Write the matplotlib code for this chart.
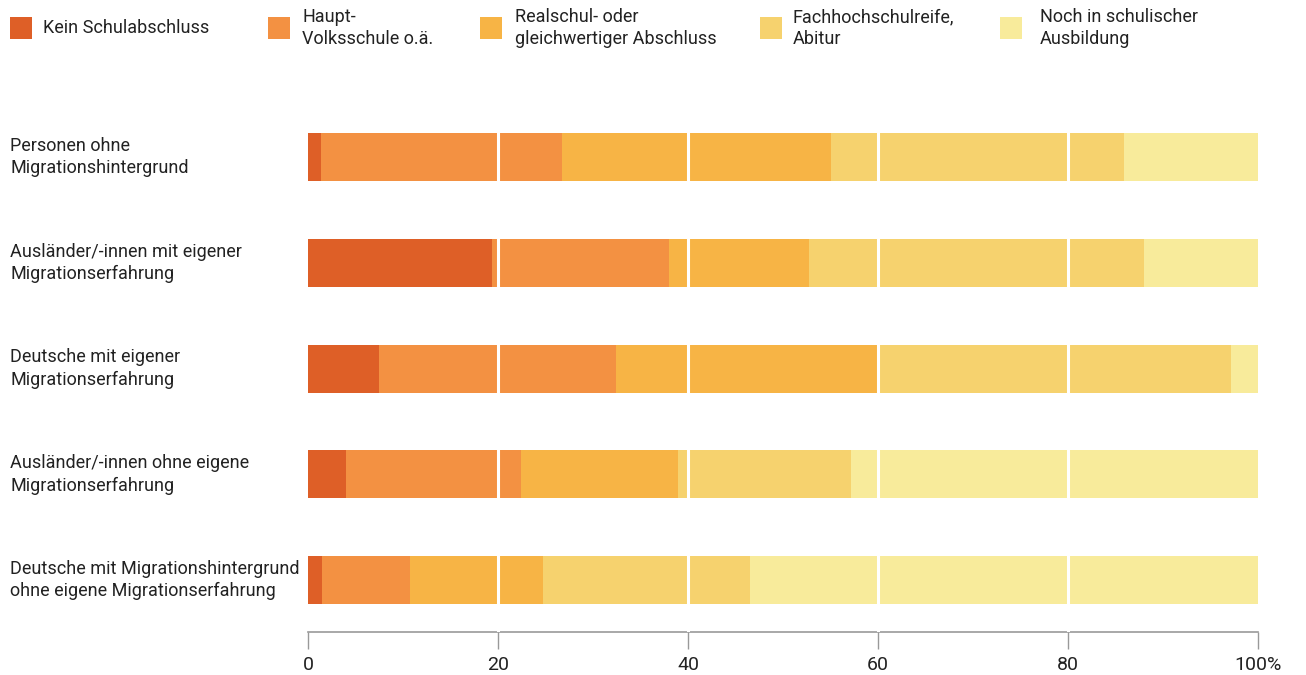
import matplotlib
matplotlib.use("Agg")
import matplotlib.pyplot as plt
from matplotlib.patches import Rectangle
import numpy as np

# Data: Anteile in % je Gruppe (von links nach rechts gestapelt)
groups = [
    "Personen ohne\nMigrationshintergrund",
    "Ausländer/-innen mit eigener\nMigrationserfahrung",
    "Deutsche mit eigener\nMigrationserfahrung",
    "Ausländer/-innen ohne eigene\nMigrationserfahrung",
    "Deutsche mit Migrationshintergrund\nohne eigene Migrationserfahrung",
]
categories = [
    "Kein Schulabschluss",
    "Haupt-\nVolksschule o.ä.",
    "Realschul- oder\ngleichwertiger Abschluss",
    "Fachhochschulreife,\nAbitur",
    "Noch in schulischer\nAusbildung",
]
kein = [1.4, 19.4, 7.5, 4.0, 1.5]
haupt = [25.3, 18.6, 24.9, 18.4, 9.2]
real = [28.4, 14.7, 27.5, 16.5, 14.0]
fach = [30.8, 35.3, 37.3, 18.3, 21.8]
noch = [14.1, 12.0, 2.8, 42.8, 53.5]
tick_vals = [0, 20, 40, 60, 80, 100]
tick_labels = ["0", "20", "40", "60", "80", "100%"]

colors = ["#DE5F27", "#F39142", "#F7B445", "#F6D26E", "#F8EB9B"]

plt.rcParams['font.family'] = ['Roboto', 'DejaVu Sans']

fig = plt.figure(figsize=(13.06, 6.75), dpi=100)
ax = fig.add_axes([308 / 1306, 1 - 632 / 675, 950 / 1306, 532 / 675])

y = np.arange(len(groups))
left = np.zeros(len(groups))
for vals, col in zip([kein, haupt, real, fach, noch], colors):
    ax.barh(y, vals, left=left, height=0.453, color=col, linewidth=0)
    left += np.array(vals)

# white grid lines over the bars
for t in tick_vals[1:-1]:
    ax.axvline(t, color="white", linewidth=2.2, zorder=3)

ax.set_xlim(0, 100)
ax.set_ylim(4.49, -0.538)
ax.set_yticks([])
ax.set_xticks(tick_vals)
ax.set_xticklabels(tick_labels, fontsize=14, color="#222222")
ax.tick_params(axis="x", length=12, width=1, color="#999999", direction="out", pad=5)
for s in ["top", "right", "left"]:
    ax.spines[s].set_visible(False)
ax.spines["bottom"].set_color("#999999")
ax.spines["bottom"].set_linewidth(1.2)

# group labels on the left
for i, g in enumerate(groups):
    disp = ax.transData.transform((0, i))
    fy = fig.transFigure.inverted().transform(disp)[1]
    fig.text(10 / 1306, fy, g, fontsize=13, va="center", ha="left",
             color="#222222", linespacing=1.3)

# legend at the top
sq_x = [10, 268, 480, 760, 1000]
txt_x = [43, 302, 515, 793, 1040]
for cat, col, sx, tx in zip(categories, colors, sq_x, txt_x):
    fig.patches.append(Rectangle((sx / 1306, 1 - 39 / 675), 22 / 1306, 22 / 675,
                                 transform=fig.transFigure, color=col, linewidth=0))
    fig.text(tx / 1306, 1 - 28 / 675, cat, fontsize=13, va="center", ha="left",
             color="#222222", linespacing=1.3)

fig.savefig("out.png", dpi=100)
